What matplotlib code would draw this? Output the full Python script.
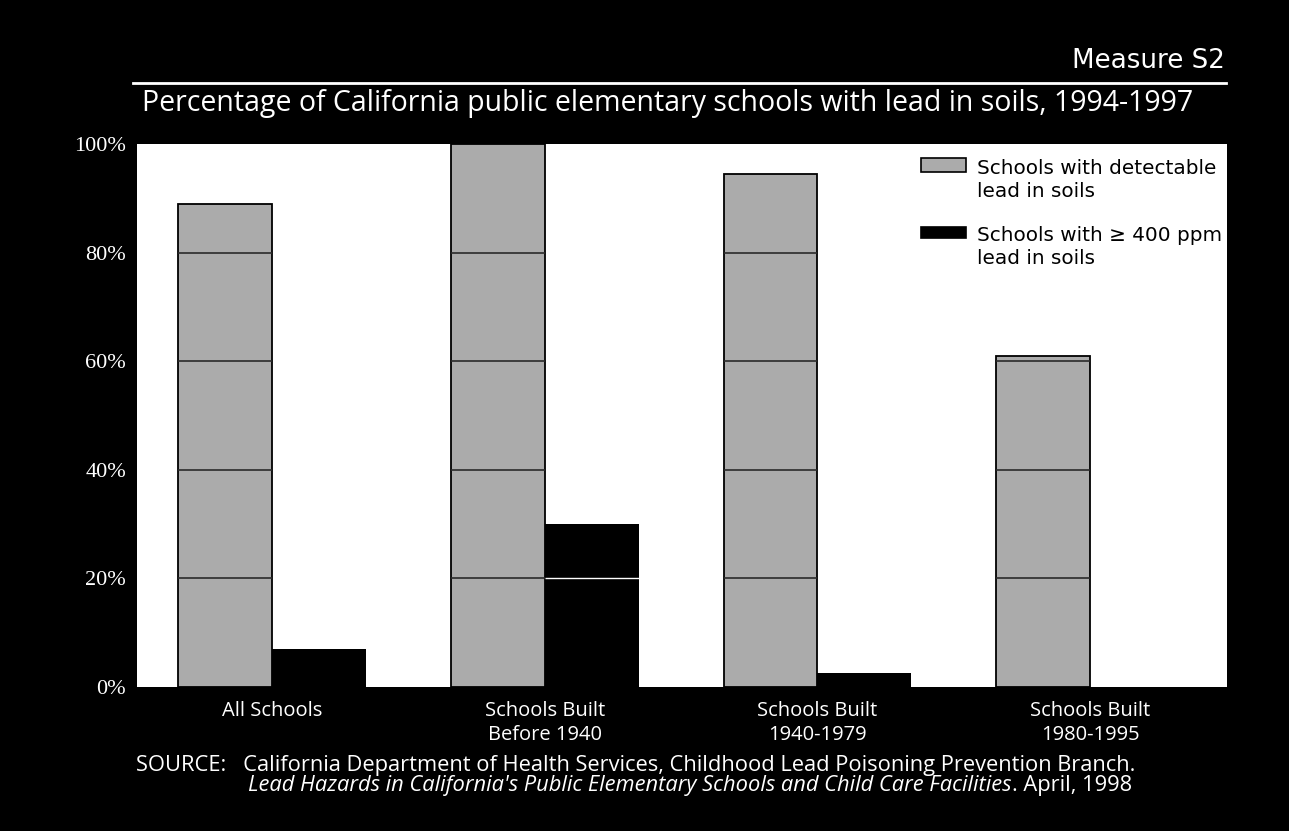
import matplotlib
matplotlib.use("Agg")
import matplotlib.pyplot as plt
from matplotlib.lines import Line2D
from matplotlib.patches import Rectangle
import numpy as np

# ---------------- data ----------------
categories = ["All Schools", "Schools Built\nBefore 1940", "Schools Built\n1940-1979", "Schools Built\n1980-1995"]
detectable = [89, 100, 94.5, 61]
over_400 = [7, 30, 2.6, 0]
yticks = [0, 20, 40, 60, 80, 100]
ytick_labels = ["0%", "20%", "40%", "60%", "80%", "100%"]
series_labels = ["Schools with detectable\nlead in soils", "Schools with \u2265 400 ppm\nlead in soils"]
series_colors = ["#ababab", "black"]
header = "Measure S2"
title = "Percentage of California public elementary schools with lead in soils, 1994-1997"
source_1 = "SOURCE:   California Department of Health Services, Childhood Lead Poisoning Prevention Branch."
source_2_italic = "Lead Hazards in California's Public Elementary Schools and Child Care Facilities"
source_2_rest = ". April, 1998"

# ---------------- layout helpers ----------------
W, H = 1289, 831
fig = plt.figure(figsize=(W / 100, H / 100), dpi=100, facecolor="black")
renderer = fig.canvas.get_renderer()

def fx(px):
    return px / W

def fy(py):
    return 1 - py / H

def fit_width(t, target):
    bb = t.get_window_extent(renderer)
    t.set_fontsize(t.get_fontsize() * target / bb.width)
    return t

HUM = ["Open Sans", "DejaVu Sans"]
GEO = ["DejaVu Sans"]
SERIF = ["Liberation Serif", "DejaVu Serif"]

# ---------------- axes ----------------
ax = fig.add_axes([fx(137), fy(687), fx(1227 - 137), (687 - 144) / H])
ax.set_facecolor("white")
x = np.arange(len(categories))
bw = 0.344
ax.bar(x - bw / 2, detectable, bw, color=series_colors[0], edgecolor="black",
       linewidth=1.3, zorder=2)
ax.bar(x + bw / 2, over_400, bw, color=series_colors[1], linewidth=0, zorder=2)

# grid lines visible only inside bars
for xi, v in zip(x, detectable):
    lv = [g for g in yticks[1:] if g < v]
    if lv:
        ax.hlines(lv, xi - bw, xi, colors="#2a2a2a", linewidth=1.2, zorder=3)
for xi, v in zip(x, over_400):
    lv = [g for g in yticks[1:] if g < v]
    if lv:
        ax.hlines(lv, xi, xi + bw, colors="white", linewidth=1.0, zorder=3)

ax.set_xlim(-0.495, 3.502)
ax.set_ylim(0, 100)
for s in ax.spines.values():
    s.set_visible(False)
ax.set_yticks(yticks)
ax.set_yticklabels(ytick_labels, family=SERIF, fontsize=16, color="white")
ax.tick_params(axis="y", length=0, pad=8)
ax.set_xticks(x)
ax.set_xticklabels(categories, family=HUM, fontsize=14.5, color="white", linespacing=1.3)
ax.tick_params(axis="x", length=0, pad=10)

# ---------------- legend (swatch aligned with first label line) ----------------
sw_x0, sw_x1 = 921, 966
sw_rows = [(158, 172), (227, 238)]
line_base = [(174, 197), (241, 264)]
leg_size = None
for i, lab in enumerate(series_labels):
    y0, y1 = sw_rows[i]
    fig.add_artist(Rectangle((fx(sw_x0), fy(y1)), fx(sw_x1 - sw_x0), (y1 - y0) / H,
                             transform=fig.transFigure, facecolor=series_colors[i],
                             edgecolor="black", linewidth=1.2))
    for j, line in enumerate(lab.split("\n")):
        t = fig.text(fx(977), fy(line_base[i][j]), line, color="black", family=GEO,
                     fontsize=14, ha="left", va="baseline")
        if leg_size is None:
            fit_width(t, 1216 - 977)
            leg_size = t.get_fontsize()
        else:
            t.set_fontsize(leg_size)

# ---------------- header / title ----------------
t_head = fig.text(fx(1225), fy(68), header, color="white", family=GEO, fontsize=16,
                  ha="right", va="baseline")
fit_width(t_head, 1225 - 1072)
fig.add_artist(Line2D([fx(133), fx(1226)], [fy(83), fy(83)], color="white", linewidth=2))
t_title = fig.text(fx(142), fy(103), title, color="white", family=HUM, fontsize=19,
                   ha="left", va="center")
fit_width(t_title, 1196 - 142)

# ---------------- source ----------------
s1 = fig.text(fx(136), fy(766), source_1, color="white", family=HUM, fontsize=13,
              ha="left", va="center")
fit_width(s1, 1131 - 136)
fs = s1.get_fontsize()
s2 = fig.text(fx(248), fy(786), source_2_italic, color="white", family=HUM, fontsize=fs,
              style="italic", ha="left", va="center")
bb = s2.get_window_extent(renderer)
fig.text(bb.x1 / W, fy(786), source_2_rest, color="white", family=HUM, fontsize=fs,
         ha="left", va="center")

fig.savefig("out.png", dpi=100, facecolor="black")
